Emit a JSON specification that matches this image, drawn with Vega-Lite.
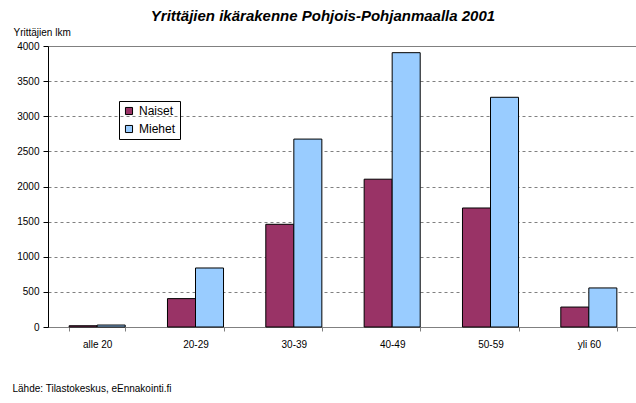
{
  "$schema": "https://vega.github.io/schema/vega-lite/v6.json",
  "autosize": {"type": "none"},
  "width": 590,
  "height": 281,
  "padding": {"left": 48, "top": 46, "right": 0, "bottom": 76},
  "background": "white",
  "config": {
    "font": "Liberation Sans",
    "view": {"stroke": null}
  },
  "title": {
    "text": "Yrittäjien ikärakenne Pohjois-Pohjanmaalla 2001",
    "font": "Liberation Sans",
    "fontSize": 15,
    "fontStyle": "italic",
    "fontWeight": "bold",
    "color": "black",
    "anchor": "middle",
    "frame": "group",
    "dx": -20,
    "offset": 3
  },
  "data": {
    "values": [
      {"ika": "alle 20", "sukupuoli": "Naiset", "lkm": 18},
      {"ika": "alle 20", "sukupuoli": "Miehet", "lkm": 28},
      {"ika": "20-29", "sukupuoli": "Naiset", "lkm": 404},
      {"ika": "20-29", "sukupuoli": "Miehet", "lkm": 840},
      {"ika": "30-39", "sukupuoli": "Naiset", "lkm": 1462},
      {"ika": "30-39", "sukupuoli": "Miehet", "lkm": 2675},
      {"ika": "40-49", "sukupuoli": "Naiset", "lkm": 2104},
      {"ika": "40-49", "sukupuoli": "Miehet", "lkm": 3905},
      {"ika": "50-59", "sukupuoli": "Naiset", "lkm": 1694},
      {"ika": "50-59", "sukupuoli": "Miehet", "lkm": 3270},
      {"ika": "yli 60", "sukupuoli": "Naiset", "lkm": 284},
      {"ika": "yli 60", "sukupuoli": "Miehet", "lkm": 556}
    ]
  },
  "mark": {"type": "bar", "stroke": "black", "strokeWidth": 1},
  "encoding": {
    "x": {
      "field": "ika",
      "type": "nominal",
      "sort": ["alle 20", "20-29", "30-39", "40-49", "50-59", "yli 60"],
      "scale": {"paddingInner": 0.43, "paddingOuter": 0.215},
      "axis": {
        "title": "Lähde: Tilastokeskus, eEnnakointi.fi",
        "titleFont": "Liberation Sans",
        "titleFontSize": 10,
        "titleFontWeight": "normal",
        "titleColor": "black",
        "titleAnchor": "start",
        "titleAlign": "left",
        "titleBaseline": "middle",
        "titleX": -36,
        "titleY": 61,
        "labelAngle": 0,
        "labelFontSize": 10,
        "labelColor": "black",
        "labelPadding": 8,
        "tickBand": "extent",
        "tickSize": 4,
        "tickColor": "#808080",
        "domainColor": "#808080",
        "grid": false
      }
    },
    "xOffset": {
      "field": "sukupuoli",
      "type": "nominal",
      "sort": ["Naiset", "Miehet"],
      "scale": {"paddingInner": 0, "paddingOuter": 0}
    },
    "y": {
      "field": "lkm",
      "type": "quantitative",
      "scale": {"domain": [0, 4000], "nice": false},
      "axis": {
        "values": [0, 500, 1000, 1500, 2000, 2500, 3000, 3500, 4000],
        "format": "d",
        "title": "Yrittäjien lkm",
        "titleFont": "Liberation Sans",
        "titleFontSize": 10,
        "titleFontWeight": "normal",
        "titleColor": "black",
        "titleAngle": 0,
        "titleAlign": "left",
        "titleBaseline": "alphabetic",
        "titleX": -35,
        "titleY": -11,
        "labelFontSize": 10,
        "labelColor": "black",
        "labelPadding": 4,
        "tickSize": 5,
        "tickColor": "black",
        "domainColor": "black",
        "grid": true,
        "gridColor": "#808080",
        "gridWidth": 1,
        "gridDash": {"condition": {"test": "datum.value === 4000", "value": []}, "value": [3, 3]}
      }
    },
    "color": {
      "field": "sukupuoli",
      "type": "nominal",
      "sort": ["Naiset", "Miehet"],
      "scale": {"domain": ["Naiset", "Miehet"], "range": ["#993366", "#99CCFF"]},
      "legend": {
        "title": null,
        "orient": "none",
        "legendX": 71,
        "legendY": 55,
        "direction": "vertical",
        "strokeColor": "black",
        "padding": 4,
        "symbolType": "square",
        "symbolSize": 50,
        "symbolStrokeColor": "black",
        "symbolStrokeWidth": 1,
        "symbolOpacity": 1,
        "labelFontSize": 12,
        "labelColor": "black",
        "rowPadding": 6
      }
    }
  }
}
